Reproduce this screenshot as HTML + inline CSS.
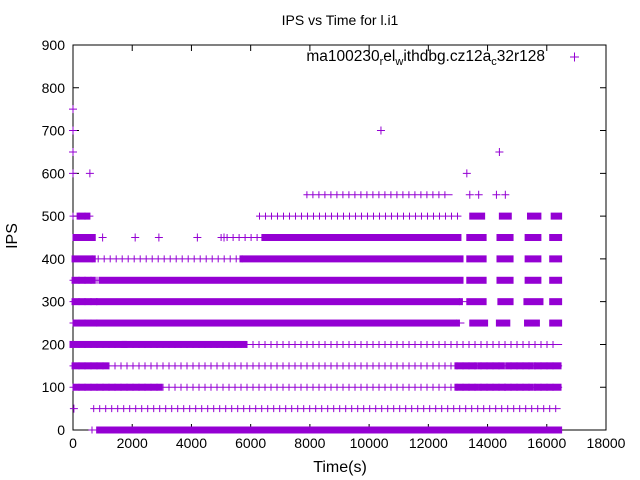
<!DOCTYPE html>
<html><head><meta charset="utf-8"><style>
body{margin:0;background:#fff}
svg{display:block;font-family:"Liberation Sans",sans-serif}
</style></head><body>
<svg id="chart" width="640" height="480" xmlns="http://www.w3.org/2000/svg">
<rect width="640" height="480" fill="#fff"/>
<text x="340" y="25" font-size="14" text-anchor="middle">IPS vs Time for l.i1</text>
<text x="0" y="0" font-size="16" text-anchor="middle" transform="translate(17,236) rotate(-90)">IPS</text>
<text x="340" y="472" font-size="16" text-anchor="middle">Time(s)</text>
<g id="axes"></g>
<g id="marks" fill="#9400d3" stroke="#9400d3"></g>
<g>
<text x="545" y="61" font-size="15.5" text-anchor="end">ma100230<tspan font-size="11" dy="4">r</tspan><tspan dy="-4">el</tspan><tspan font-size="11" dy="4">w</tspan><tspan dy="-4">ithdbg.cz12a</tspan><tspan font-size="11" dy="4">c</tspan><tspan dy="-4">32r128</tspan></text>
<path d="M570 57h9M574.5 52.5v9" stroke="#9400d3" stroke-width="1"/>
</g>
</svg>
<script>
const xTicks=[0,2000,4000,6000,8000,10000,12000,14000,16000,18000];
const yTicks=[0,100,200,300,400,500,600,700,800,900];
const levels=[0,50,100,150,200,250,300,350,400,450,500,550];
const dense=[
 [[900,16400]],
 [],
 [[100,2900],[13000,13575],[13810,14490],[14690,15430],[15670,16380]],
 [[70,1080],[13000,13540],[13780,14450],[14730,15430],[15670,16380]],
 [[0,1700],[1760,5750]],
 [[100,700],[900,12950],[13500,13900],[14400,14650],[15350,15650],[16200,16400]],
 [[70,680],[900,13050],[13400,13850],[14450,14760],[15330,15770],[16200,16400]],
 [[70,650],[980,13070],[13400,13850],[14420,14760],[15370,15700],[16200,16400]],
 [[70,650],[5740,13070],[13400,13850],[14420,14760],[15370,15700],[16200,16400]],
 [[100,650],[6480,13000],[13400,13850],[14420,14760],[15370,15700],[16200,16400]],
 [[240,470],[13500,13800],[14500,14700],[15450,15700],[16250,16400]],
 []
];
const sparse=[
 [[640,900]],
 [[700,16350]],
 [[0,16400]],
 [[0,16400]],
 [[0,16400]],
 [[0,900],[12950,13100]],
 [[0,900],[13050,13200]],
 [[0,980]],
 [[650,5740]],
 [[5000,6480]],
 [[0,570],[6300,13000]],
 [[7900,12700]]
];
const outX=[0,0,0,570,0,10400,13300,14400,1000,2100,2900,4200,5100,30,13400,13700,14300,14600];
const outY=[600,650,700,600,750,700,600,650,450,450,450,450,450,50,550,550,550,550];
const X0=73,X1=606,Y0=430,Y1=45;
const sx=t=>X0+t/18000*(X1-X0);
const sy=v=>Y0-v/900*(Y0-Y1);
const NS="http://www.w3.org/2000/svg";
const axes=document.getElementById('axes'),marks=document.getElementById('marks');
function mk(tag,attrs,parent){const e=document.createElementNS(NS,tag);for(const k in attrs)e.setAttribute(k,attrs[k]);parent.appendChild(e);return e;}
const frame=mk('rect',{x:X0,y:Y1,width:X1-X0,height:Y0-Y1,fill:'none',stroke:'#000','stroke-width':1},axes);


xTicks.forEach(t=>{const x=sx(t);
 const tk=mk('path',{d:`M${x} ${Y0}v-6M${x} ${Y1}v6`,stroke:'#000'},axes);
 
 
 const l=mk('text',{x:x,y:Y0+18,'font-size':14,'text-anchor':'middle'},axes);l.textContent=t;
 
 
});
yTicks.forEach(v=>{const y=sy(v);
 const tk=mk('path',{d:`M${X0} ${y}h6M${X1} ${y}h-6`,stroke:'#000'},axes);
 
 
 const l=mk('text',{x:X0-8,y:y+5,'font-size':14,'text-anchor':'end'},axes);l.textContent=v;
 
 
});
levels.forEach((v,i)=>{const y=sy(v);
 sparse[i].forEach(([a,b])=>{const x0=sx(a),x1=sx(b);
  let d=`M${x0-3.5} ${y}H${x1+3.5}`;
  for(let x=x0;x<=x1;x+=6)d+=`M${x.toFixed(1)} ${y-3.5}v7`;
  const p=mk('path',{d:d,fill:'none','stroke-width':1},marks);
  
  
 });
 dense[i].forEach(([a,b])=>{
  const r=mk('rect',{x:sx(a)-3.5,y:y-3.5,width:sx(b)-sx(a)+7,height:7,stroke:'none'},marks);
  
  
 });
});
outX.forEach((t,i)=>{const x=sx(t),y=sy(outY[i]);
 const p=mk('path',{d:`M${x-4} ${y}h8M${x} ${y-4}v8`,fill:'none'},marks);
 
 
});
</script>
</body></html>
